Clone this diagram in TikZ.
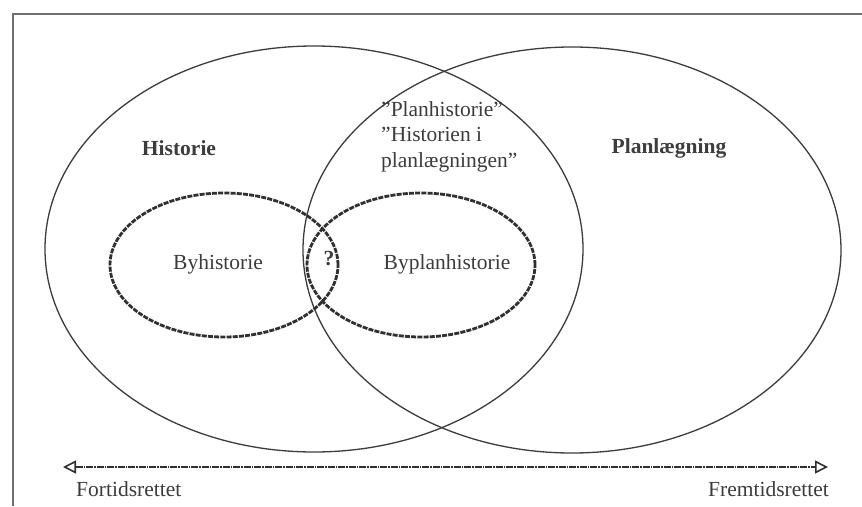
\documentclass[tikz,border=0pt]{standalone}
\usepackage{fontspec}
\setmainfont{Liberation Serif}
\usetikzlibrary{shapes.geometric,arrows.meta}
\definecolor{ink}{HTML}{3C3C3C}
\definecolor{frame}{HTML}{707070}
\tikzset{
  bigset/.style={draw=ink, line width=1.3pt, ellipse, minimum width=538pt, minimum height=406pt, inner sep=0pt},
  subset/.style={draw=ink!80!black, line width=2.8pt, ellipse, dash pattern=on 5pt off 1.2pt, minimum width=228pt, minimum height=144pt, inner sep=0pt},
  lbl/.style={font=\fontsize{21.5}{25}\selectfont, text=ink, inner sep=0pt},
  bold/.style={lbl, font=\fontsize{21.5}{25}\selectfont\bfseries},
  timeline/.style={draw=ink!80!black, line width=2.6pt, dash pattern=on 7pt off 1pt on 1.5pt off 1pt, {Triangle[open,length=13pt,width=13pt,line width=1.6pt]}-{Triangle[open,length=13pt,width=13pt,line width=1.6pt]}}
}
\begin{document}
\begin{tikzpicture}[x=1pt,y=-1pt]
\useasboundingbox (0,0) rectangle (862,506);
\fill[white] (0,0) rectangle (862,506);
\draw[frame, line width=1.5pt] (13,506) -- (13,14) -- (862,14);
\node[bigset] (hist) at (314,249) {};
\node[bigset] (plan) at (572,250) {};
\node[subset] (byh) at (224,265) {};
\node[subset] (byp) at (421,265) {};
\node[bold] (histlbl) at (179,148) {Historie};
\node[bold] (planlbl) at (669,148) {Planlægning};
\node[lbl, anchor=north west, align=left, font=\fontsize{21.5}{25.5}\selectfont] (planhist) at (381,101) {”Planhistorie”\\”Historien i\\planlægningen”};
\node[lbl] (byhlbl) at (218,264) {Byhistorie};
\node[lbl] (byplbl) at (447,264) {Byplanhistorie};
\node[bold] (q) at (329,259) {?};
\coordinate (past) at (63,467);
\coordinate (future) at (828,467);
\draw[timeline] (past) -- (future);
\node[lbl, anchor=west] (fort) at (76,489) {Fortidsrettet};
\node[lbl, anchor=east] (frem) at (829,489) {Fremtidsrettet};
\end{tikzpicture}
\end{document}
